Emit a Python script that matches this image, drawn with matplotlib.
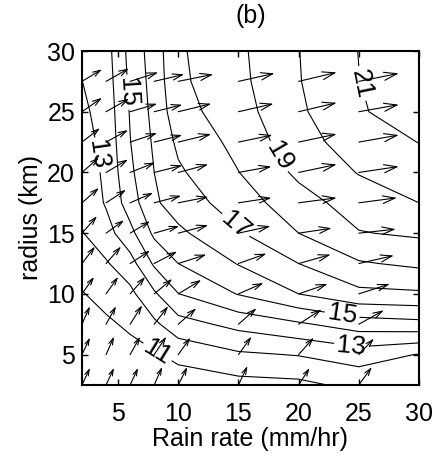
import numpy as np
import matplotlib
matplotlib.use("Agg")
import matplotlib.pyplot as plt

plt.rcParams['font.family'] = ['Liberation Sans', 'DejaVu Sans']

# grid of the contoured field
rain = [2, 4, 6, 8, 10, 15, 20, 25, 30]
radius = [2.5, 5, 7.5, 10, 12.5, 15, 17.5, 20, 22.5, 25, 27.5, 30]

# field values, one row per radius (bottom to top)
field = [
    [10.10, 10.20, 10.30, 10.35, 10.40, 10.65, 10.75, 11.28, 11.50],
    [10.35, 10.50, 10.70, 10.87, 11.30, 11.85, 12.05, 12.48, 11.95],
    [10.65, 10.85, 11.15, 11.80, 12.60, 13.30, 13.85, 14.48, 14.67],
    [10.95, 11.30, 11.75, 12.85, 13.98, 15.05, 16.00, 16.75, 16.85],
    [11.45, 11.90, 12.60, 14.15, 15.00, 16.05, 17.00, 17.90, 18.20],
    [11.95, 12.60, 13.70, 15.20, 15.80, 16.90, 18.00, 18.95, 19.15],
    [12.20, 13.10, 14.50, 15.85, 16.45, 17.50, 18.60, 19.45, 20.00],
    [12.40, 13.20, 14.80, 16.00, 16.85, 17.98, 19.20, 20.05, 20.50],
    [12.60, 13.30, 14.97, 16.15, 17.20, 18.30, 19.60, 20.50, 21.02],
    [12.80, 13.40, 15.07, 16.30, 17.60, 18.60, 19.83, 20.92, 21.40],
    [12.99, 13.50, 15.20, 16.40, 17.80, 18.75, 19.95, 20.98, 21.70],
    [13.30, 13.60, 15.32, 16.48, 17.86, 18.81, 19.98, 21.02, 21.90],
]
plain_levels = [12, 14, 16, 18, 20]
label_levels = [11, 13, 15, 17, 19, 21]
label_spots = [(8.5, 5.6), (24.4, 5.7), (23.6, 8.2), (14.8, 15.7),
               (18.3, 21.3), (25.15, 27.3), (5.7, 26.6), (3.0, 21.4)]

# vectors (same grid, last column and row left out)
arrow_rain = rain[:-1]
arrow_radius = radius[:-1]
u = [
    [0.66, 0.66, 0.66, 0.66, 0.75, 0.75, 0.91, 1.08],
    [0.66, 0.66, 0.83, 1.00, 1.00, 1.08, 1.25, 1.25],
    [0.66, 0.83, 1.00, 1.16, 1.50, 1.50, 1.91, 2.08],
    [1.00, 1.00, 1.25, 1.50, 1.91, 2.08, 2.41, 2.57],
    [1.08, 1.25, 1.66, 1.91, 2.33, 2.33, 2.66, 2.91],
    [1.25, 1.50, 1.66, 2.08, 2.49, 2.66, 2.74, 3.07],
    [1.41, 1.66, 1.91, 2.24, 2.49, 2.74, 3.16, 3.16],
    [1.41, 1.83, 2.08, 2.33, 2.49, 2.74, 3.16, 3.32],
    [1.50, 1.83, 2.24, 2.33, 2.74, 2.82, 3.16, 3.32],
    [1.66, 1.91, 2.24, 2.33, 2.74, 2.91, 3.16, 3.32],
    [1.66, 1.91, 2.33, 2.49, 2.91, 2.99, 3.16, 3.32],
]
v = [
    [1.40, 1.40, 1.40, 1.48, 1.48, 1.56, 1.40, 1.48],
    [1.40, 1.48, 1.48, 1.48, 1.40, 1.48, 1.40, 1.32],
    [1.48, 1.48, 1.56, 1.48, 1.32, 1.32, 1.23, 1.15],
    [1.40, 1.40, 1.40, 1.23, 1.15, 0.90, 0.82, 0.82],
    [1.40, 1.40, 1.07, 0.99, 0.74, 0.82, 0.74, 0.66],
    [1.40, 1.07, 0.99, 0.58, 0.66, 0.58, 0.41, 0.33],
    [1.23, 1.07, 0.82, 0.58, 0.49, 0.41, 0.41, 0.41],
    [1.23, 1.07, 0.82, 0.58, 0.66, 0.49, 0.66, 0.49],
    [1.15, 0.99, 0.74, 0.58, 0.66, 0.58, 0.66, 0.58],
    [1.15, 1.07, 0.66, 0.58, 0.66, 0.66, 0.74, 0.58],
    [0.99, 1.07, 0.74, 0.58, 0.58, 0.66, 0.74, 0.66],
]

fs = 18
fig = plt.figure(figsize=(4.36, 4.62), dpi=100)
ax = fig.add_axes([0.188, 0.1667, 0.773, 0.7229])
ax.set_xlim(2, 30)
ax.set_ylim(2.5, 30)

X, Y = np.meshgrid(rain, radius)
Z = np.array(field)
ax.contour(X, Y, Z, levels=plain_levels, colors='k', linewidths=0.8)
cs = ax.contour(X, Y, Z, levels=label_levels, colors='k', linewidths=0.8)
ax.clabel(cs, manual=label_spots, inline=True, fontsize=19, fmt='%d',
          inline_spacing=3)

# quiver-style arrows with open heads
for i, ry in enumerate(arrow_radius):
    for j, rx in enumerate(arrow_rain):
        du, dv = u[i][j], v[i][j]
        tip = ax.transData.transform((rx + du, ry + dv))
        base = ax.transData.transform((rx, ry))
        L = np.hypot(*(tip - base)) * 0.72
        style = f"->,head_length={0.32 * L:.2f},head_width={0.1 * L:.2f}"
        ax.annotate('', xy=(rx + du, ry + dv), xytext=(rx, ry),
                    arrowprops=dict(arrowstyle=style, mutation_scale=1,
                                    lw=0.8, color='k', shrinkA=0, shrinkB=0))

ax.set_xticks([5, 10, 15, 20, 25, 30])
ax.set_yticks([5, 10, 15, 20, 25, 30])
ax.tick_params(direction='in', top=True, right=True, length=4, width=1,
               labelsize=fs)
ax.tick_params(axis='x', pad=12)
ax.tick_params(axis='y', pad=5)
for s in ax.spines.values():
    s.set_linewidth(1.5)
ax.set_xlabel('Rain rate (mm/hr)', fontsize=fs, labelpad=1)
ax.set_ylabel('radius (km)', fontsize=fs, labelpad=3)
ax.set_title('(b)', fontsize=fs, pad=20)

fig.savefig('out.png', dpi=100)
